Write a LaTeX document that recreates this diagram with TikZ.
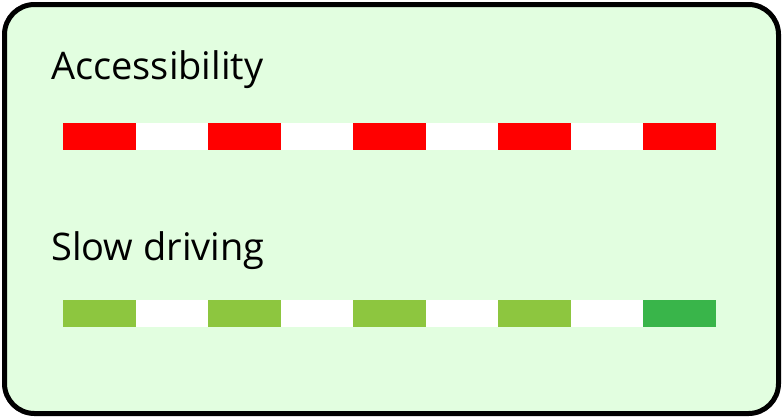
\documentclass[tikz,border=0pt]{standalone}
\usepackage{fontspec}
\setmainfont{Open Sans}
\definecolor{bgfill}{HTML}{E2FEE0}
\definecolor{redseg}{HTML}{FF0000}
\definecolor{lightgreen}{HTML}{8DC63F}
\definecolor{darkgreen}{HTML}{39B54A}
\begin{document}
\begin{tikzpicture}[x=1pt,y=-1pt,
  label text/.style={anchor=base west,inner sep=0pt,font=\fontsize{38}{44}\selectfont},
  seg/.style={minimum width=72.5pt,minimum height=27.5pt,inner sep=0pt,outer sep=0pt,anchor=west}]
\useasboundingbox (0,0) rectangle (783,418);
\draw[line width=5pt,fill=bgfill,rounded corners=30pt] (4.5,4.5) rectangle (778.5,413.5);
\node[label text] (lab1) at (51,79) {Accessibility};
\node[label text] (lab2) at (51,260) {Slow driving};
% bar 1
\fill[white] (63,122.5) rectangle (716,150);
\foreach \i in {0,...,4} {
  \node[seg,fill=redseg] (r\i) at (63+145*\i,136.25) {};
}
% bar 2
\fill[white] (63,299.5) rectangle (716,327);
\foreach \i in {0,...,3} {
  \node[seg,fill=lightgreen] (g\i) at (63+145*\i,313.25) {};
}
\node[seg,fill=darkgreen] (g4) at (643,313.25) {};
\end{tikzpicture}
\end{document}
